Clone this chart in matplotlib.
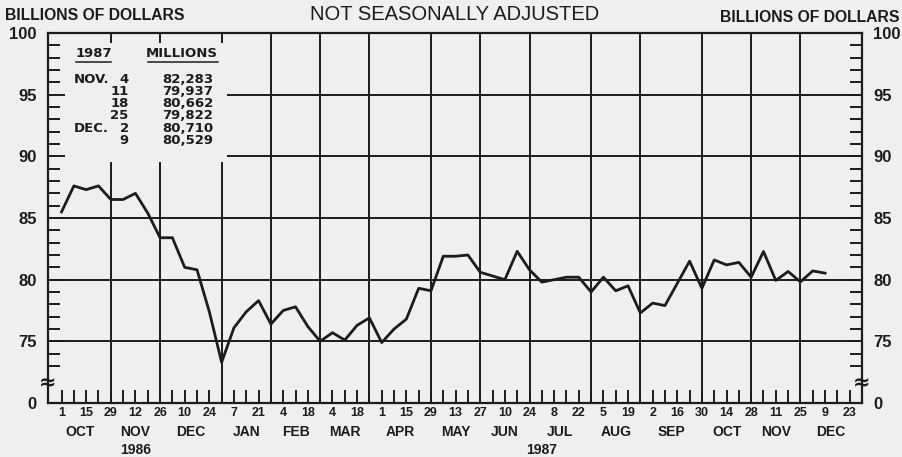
import numpy as np
import pandas as pd
import matplotlib
matplotlib.use("Agg")
import matplotlib.pyplot as plt
from matplotlib.patches import Rectangle

# Weekly series, Wednesdays from Oct 1 1986 through Dec 9 1987 (billions of dollars)
values = [85.5, 87.6, 87.3, 87.6, 86.5, 86.5, 87.0, 85.4, 83.4, 83.4,
          81.0, 80.8, 77.4, 73.3, 76.1, 77.4, 78.3, 76.4, 77.5, 77.8,
          76.2, 75.0, 75.7, 75.1, 76.3, 76.9, 74.9, 76.0, 76.8, 79.3,
          79.1, 81.9, 81.9, 82.0, 80.6, 80.3, 80.0, 82.3, 80.8, 79.8,
          80.0, 80.2, 80.2, 79.0, 80.2, 79.1, 79.5, 77.3, 78.1, 77.9,
          79.7, 81.5, 79.3, 81.6, 81.2, 81.4, 80.2, 82.283, 79.937, 80.662,
          79.822, 80.710, 80.529]

# axis runs one week past the data (to Dec 23 1987)
weeks = pd.date_range("1986-10-01", "1987-12-23", freq="7D")

table_months = ["NOV.", "", "", "", "DEC.", ""]
table_days = ["4", "11", "18", "25", "2", "9"]
table_vals = ["82,283", "79,937", "80,662", "79,822", "80,710", "80,529"]

y_ticks = [70, 75, 80, 85, 90, 95, 100]
y_labels = ["0", "75", "80", "85", "90", "95", "100"]

INK = "#1c1c1c"
PAPER = "#efefed"

plt.rcParams["font.family"] = "Liberation Sans"

fig = plt.figure(figsize=(9.03, 4.57), dpi=100, facecolor=PAPER)
ax = fig.add_axes([48 / 903, 1 - 403 / 457, 814 / 903, 370 / 457])
ax.set_facecolor(PAPER)

x = np.arange(len(weeks))
ax.set_xlim(-1.1, len(weeks))
ax.set_ylim(70, 100)

# vertical grid at last Wednesday of each month
last_wed = [i for i in range(len(weeks) - 1) if weeks[i].month != weeks[i + 1].month]
for i in last_wed:
    ax.axvline(i, color=INK, lw=1.4, zorder=1)
for v in [75, 80, 85, 90, 95]:
    ax.axhline(v, color=INK, lw=1.4, zorder=1)

# blank box behind the inset table
ax.add_patch(Rectangle((-0.9, 89.55), 14.3, 9.65, facecolor=PAPER,
                       edgecolor="none", zorder=2))

ax.plot(x[:len(values)], values, color=INK, lw=2.0, zorder=3)

# y axis
ax.set_axisbelow(False)
ax.set_yticks(y_ticks, labels=y_labels)
ax.set_yticks([v for v in range(73, 100) if v % 5 != 0], minor=True)
ax.tick_params(axis="y", which="both", direction="in", left=True, right=True,
               labelleft=True, labelright=True, colors=INK, width=1.4)
ax.tick_params(axis="y", which="major", length=12, pad=8, labelsize=12)
ax.tick_params(axis="y", which="minor", length=8.5)
for lab in ax.get_yticklabels():
    lab.set_fontweight("bold")

# x axis: weekly ticks, every other one labelled
ax.set_xticks(x, labels=[str(d.day) if i % 2 == 0 else "" for i, d in enumerate(weeks)])
ax.tick_params(axis="x", which="major", direction="in", length=9.5, width=1.4,
               pad=3, labelsize=9, colors=INK, top=False)
for lab in ax.get_xticklabels():
    lab.set_fontweight("bold")

for s in ax.spines.values():
    s.set_color(INK)
    s.set_linewidth(1.6)

# month labels centred between month boundaries
bounds = [-1] + last_wed + [len(weeks)]
for a, b in zip(bounds[:-1], bounds[1:]):
    ax.annotate(weeks[b - 1].strftime("%b").upper(), ((a + b) / 2, 0),
                xycoords=("data", "axes fraction"), xytext=(0, -21),
                textcoords="offset points", ha="center", va="center",
                fontsize=10, fontweight="bold", color=INK)

# year labels centred over each year's span
yr_split = 13
for a, b, yr in [(-1, yr_split, "1986"), (yr_split, len(weeks), "1987")]:
    ax.annotate(yr, ((a + b) / 2, 0), xycoords=("data", "axes fraction"),
                xytext=(0, -34), textcoords="offset points", ha="center",
                va="center", fontsize=10, fontweight="bold", color=INK)

# axis break marks
for xb in [-1.1, len(weeks)]:
    ax.text(xb, 71.6, "\u2248", ha="center", va="center", fontsize=15,
            fontweight="bold", color=INK, zorder=5, clip_on=False,
            family="DejaVu Sans")

# inset table
tbl = dict(fontsize=9.5, fontweight="bold", color=INK, va="center", zorder=4,
           family="DejaVu Sans")
ax.text(2.6, 98.3, "1987", ha="center", **tbl)
ax.text(9.8, 98.3, "MILLIONS", ha="center", **tbl)
ax.plot([1.2, 4.0], [97.65, 97.65], color=INK, lw=1.1, zorder=4)
ax.plot([7.0, 12.7], [97.65, 97.65], color=INK, lw=1.1, zorder=4)
for k in range(len(table_vals)):
    yy = 96.25 - 0.99 * k
    ax.text(1.0, yy, table_months[k], ha="left", **tbl)
    ax.text(5.45, yy, table_days[k], ha="right", **tbl)
    ax.text(12.3, yy, table_vals[k], ha="right", **tbl)

fig.text(5 / 903, 1 - 15 / 457, "BILLIONS OF DOLLARS", fontsize=11.3,
         fontweight="bold", color=INK, ha="left", va="center")
fig.text(900 / 903, 1 - 17 / 457, "BILLIONS OF DOLLARS", fontsize=11.3,
         fontweight="bold", color=INK, ha="right", va="center")
fig.text(455 / 903, 1 - 15 / 457, "NOT SEASONALLY ADJUSTED", fontsize=14.5,
         color=INK, ha="center", va="center")

fig.savefig("out.png", dpi=100, facecolor=PAPER)
